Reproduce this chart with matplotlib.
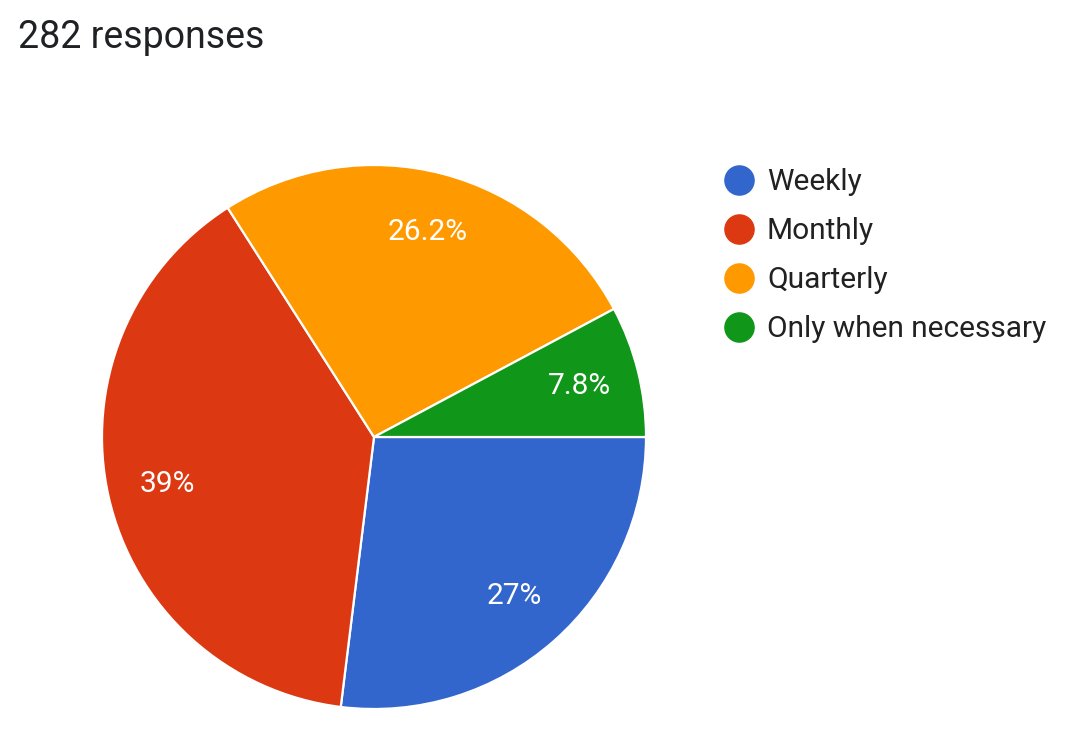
import matplotlib
matplotlib.use("Agg")
import matplotlib.pyplot as plt
from matplotlib.lines import Line2D

plt.rcParams['font.family'] = ['Roboto', 'DejaVu Sans']

# survey data (282 responses)
categories = ['Weekly', 'Monthly', 'Quarterly', 'Only when necessary']
counts = [76, 110, 74, 22]
colors = ['#3366CC', '#DC3912', '#FF9900', '#109618']
title = '282 responses'


def fmt_pct(p):
    s = f'{p:.1f}'
    if s.endswith('.0'):
        s = s[:-2]
    return s + '%'


W, H = 1080, 733
fig = plt.figure(figsize=(W / 100, H / 100), dpi=100)

# pie axes: centre (374, 437) px, radius 272 px
cx, cy, r = 374, 437, 272
ax = fig.add_axes([(cx - r) / W, (H - cy - r) / H, 2 * r / W, 2 * r / H])
wedges, texts, autotexts = ax.pie(
    counts, colors=colors, startangle=0, counterclock=False,
    autopct=fmt_pct, pctdistance=0.78,
    wedgeprops=dict(edgecolor='white', linewidth=1.6),
    textprops=dict(color='white', fontsize=21.5))
ax.set_xlim(-1, 1)
ax.set_ylim(-1, 1)
ax.set_aspect('equal')
ax.axis('off')

fig.text(18 / W, 1 - 37 / H, title, fontsize=27, color='#202124',
         ha='left', va='center')

handles = [Line2D([], [], marker='o', linestyle='none', markersize=21,
                  markerfacecolor=c, markeredgecolor=c) for c in colors]
fig.legend(handles, categories, loc='upper left',
           bbox_to_anchor=(721 / W, 1 - 168.5 / H), frameon=False,
           fontsize=21.5, labelspacing=0.7, handletextpad=0.34,
           handlelength=1.2, borderpad=0, borderaxespad=0,
           labelcolor='#212121')

fig.savefig('out.png', dpi=100, facecolor='white')
